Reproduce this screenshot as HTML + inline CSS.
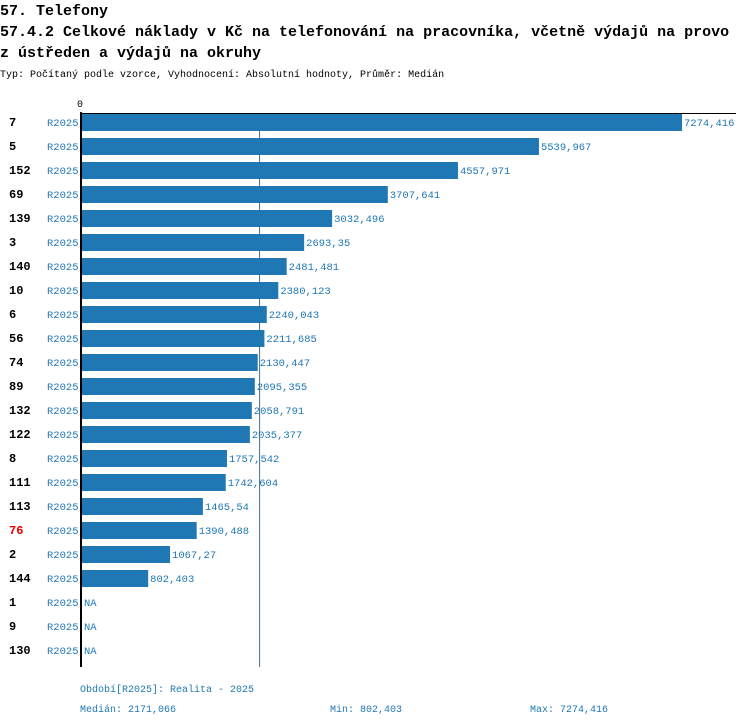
<!DOCTYPE html>
<html><head><meta charset="utf-8"><style>
body{margin:0;background:#fff;}
svg{display:block;font-family:"Liberation Mono","DejaVu Sans Mono",monospace;}
</style></head><body>
<svg id="chart" width="750" height="726">
<text x="0" y="15" font-size="15" font-weight="bold">57. Telefony</text>
<text x="0" y="36" font-size="15" font-weight="bold">57.4.2 Celkové náklady v Kč na telefonování na pracovníka, včetně výdajů na provo</text>
<text x="0" y="57" font-size="15" font-weight="bold">z ústředen a výdajů na okruhy</text>
<text x="0" y="77" font-size="10">Typ: Počítaný podle vzorce, Vyhodnocení: Absolutní hodnoty, Průměr: Medián</text>
<text x="77" y="107" font-size="10">0</text>
<line id="medline" x1="259.5" y1="113" x2="259.5" y2="667" stroke="#4a6f8f" stroke-width="1"/>
<g id="bars"></g>
<line x1="80" y1="113.5" x2="736" y2="113.5" stroke="#000" stroke-width="1"/>
<line x1="81" y1="112" x2="81" y2="667" stroke="#000" stroke-width="2"/>
<g font-size="10" fill="#1f77b4">
<text x="80" y="692">Období[R2025]: Realita - 2025</text>
<text x="80" y="712">Medián: 2171,066</text>
<text x="330" y="712">Min: 802,403</text>
<text x="530" y="712">Max: 7274,416</text>
</g>
</svg>
<script>
const categories=["7","5","152","69","139","3","140","10","6","56","74","89","132","122","8","111","113","76","2","144","1","9","130"];
const values=[7274.416,5539.967,4557.971,3707.641,3032.496,2693.35,2481.481,2380.123,2240.043,2211.685,2130.447,2095.355,2058.791,2035.377,1757.542,1742.604,1465.54,1390.488,1067.27,802.403,null,null,null];
const valueLabels=["7274,416","5539,967","4557,971","3707,641","3032,496","2693,35","2481,481","2380,123","2240,043","2211,685","2130,447","2095,355","2058,791","2035,377","1757,542","1742,604","1465,54","1390,488","1067,27","802,403","NA","NA","NA"];
const medianValue=2171.066;
const highlighted="76";
const ns="http://www.w3.org/2000/svg";
const x0=82, xMax=682, maxV=7274.416;
function xs(v){return x0+(v/maxV)*(xMax-x0);}
function ys(i){return 122+i*24;}
document.getElementById('medline').setAttribute('x1',xs(medianValue)-1.5);
document.getElementById('medline').setAttribute('x2',xs(medianValue)-1.5);
const g=document.getElementById('bars');
function mk(tag,attrs,txt){const e=document.createElementNS(ns,tag);for(const k in attrs)e.setAttribute(k,attrs[k]);if(txt!=null)e.textContent=txt;g.appendChild(e);return e;}
categories.forEach((c,i)=>{
  const y=ys(i);
  const lab=mk('text',{x:9,y:y+4,'font-size':12,'font-weight':'bold',fill:c===highlighted?'#e00':'#000'},c);
  
  
  const per=mk('text',{x:47,y:y+4,'font-size':10.5,fill:'#1f77b4'},'R2025');
  
  
  let endX=x0;
  if(values[i]!=null){
    endX=xs(values[i]);
    const r=mk('rect',{x:x0,y:y-8,width:endX-x0,height:17,fill:'#1f77b4'});
    
    
  }
  const vl=mk('text',{x:endX+2,y:y+4,'font-size':10.5,fill:'#1f77b4'},valueLabels[i]);
  
  
});
</script>
</body></html>
